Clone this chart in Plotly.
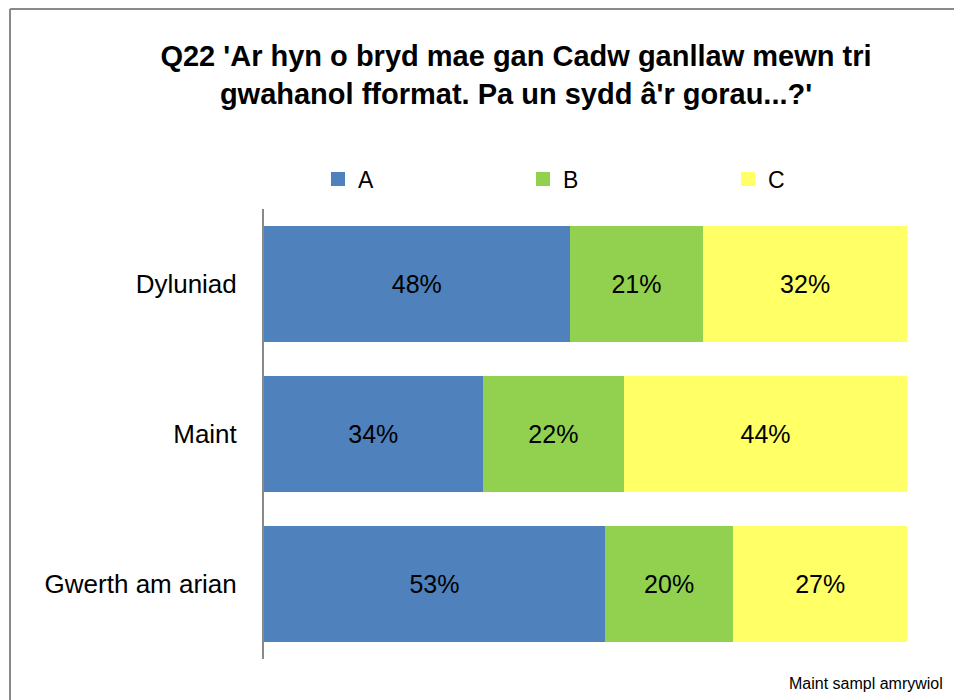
import plotly.graph_objects as go

categories = ["Dyluniad", "Maint", "Gwerth am arian"]
series_names = ["A", "B", "C"]
values_a = [48, 34, 53]
values_b = [21, 22, 20]
values_c = [32, 44, 27]
colors = ["#4F81BD", "#92D050", "#FFFF66"]

title_text = "Q22 'Ar hyn o bryd mae gan Cadw ganllaw mewn tri<br>gwahanol fformat. Pa un sydd â'r gorau...?'"
footnote = "Maint sampl amrywiol"

FONT = "Arial, Liberation Sans, sans-serif"

W, H = 962, 700
OFF = 8  # page body margin
L, R, T, B = 256, 63, 201, 49
pw, ph = W - L - R, H - T - B


def px(xs):
    return (xs - OFF - L) / pw


def py(ys):
    return (H - B - (ys - OFF)) / ph


fig = go.Figure()
for name, vals, col in zip(series_names, [values_a, values_b, values_c], colors):
    fig.add_trace(go.Bar(
        y=categories, x=vals, name=name, orientation="h",
        marker=dict(color=col, line=dict(width=0)),
        text=vals, texttemplate="%{text}%", textposition="inside",
        insidetextanchor="middle",
        textfont=dict(size=25, color="black", family=FONT),
        hoverinfo="skip", showlegend=False,
    ))
    # legend entry with a larger square swatch
    fig.add_trace(go.Scatter(
        x=[None], y=[None], mode="markers", name=name,
        marker=dict(symbol="square", size=14, color=col, line=dict(width=0)),
        showlegend=True, hoverinfo="skip",
    ))

fig.update_layout(
    width=W, height=H,
    margin=dict(l=L, r=R, t=T, b=B),
    barmode="stack", barnorm="percent", bargap=0.227,
    paper_bgcolor="white", plot_bgcolor="white",
    font=dict(family=FONT, color="black"),
    title=dict(text=title_text, x=(516 - OFF) / W, xref="container", xanchor="center",
               y=1 - 58 / H, yref="container", yanchor="top",
               font=dict(size=29, family=FONT, color="black", weight="bold")),
    showlegend=True,
    legend=dict(orientation="h", x=px(318), xanchor="left", y=py(179), yanchor="middle",
                entrywidth=160, entrywidthmode="pixels",
                font=dict(size=23, family=FONT), traceorder="normal",
                bgcolor="rgba(0,0,0,0)"),
    xaxis=dict(range=[0, 100], visible=False, showgrid=False, zeroline=False),
    yaxis=dict(autorange="reversed", showline=True, linecolor="#898989", linewidth=2,
               ticks="", showgrid=False, tickfont=dict(size=26, family=FONT),
               ticklabelstandoff=20),
    uniformtext=dict(mode="show", minsize=10),
)

# outer chart frame (top and left edges)
fig.add_shape(type="line", xref="paper", yref="paper", x0=px(10), x1=px(980), y0=py(9), y1=py(9),
              line=dict(color="#898989", width=2))
fig.add_shape(type="line", xref="paper", yref="paper", x0=px(10), x1=px(10), y0=py(9), y1=py(720),
              line=dict(color="#898989", width=2))

fig.add_annotation(text=footnote, xref="paper", yref="paper", x=px(945), y=py(683),
                   xanchor="right", yanchor="middle", showarrow=False,
                   font=dict(size=16, family=FONT, color="black"))

fig.write_html("out.html")
